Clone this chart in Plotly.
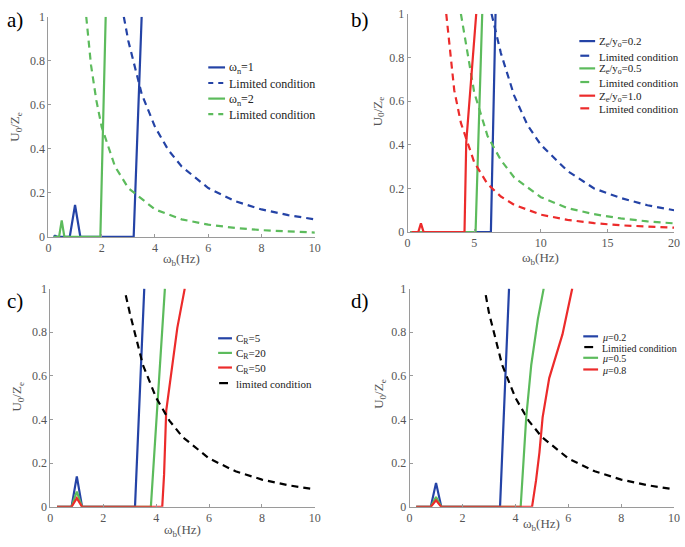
import plotly.graph_objects as go

W, H = 685, 547

# ---------------- data ----------------
# panel a
a_wn1_x = [0.2, 0.25, 0.35, 0.8, 1.0, 1.2, 2.0, 3.2, 3.5]
a_wn1_y = [0, 0.005, 0, 0, 0.145, 0, 0, 0, 1.0]
a_lim1_x = [2.83, 3.0, 3.5, 4.0, 4.5, 5.0, 6.0, 7.0, 8.0, 9.0, 10.0]
a_lim1_y = [1.0, 0.89, 0.65, 0.5, 0.395, 0.32, 0.222, 0.163, 0.125, 0.099, 0.08]
a_wn2_x = [0.2, 0.4, 0.5, 0.6, 1.0, 1.95, 2.15]
a_wn2_y = [0, 0, 0.075, 0, 0, 0, 1.0]
a_lim2_x = [1.42, 1.6, 1.8, 2.0, 2.5, 3.0, 4.0, 5.0, 6.0, 7.0, 8.0, 9.0, 10.0]
a_lim2_y = [1.0, 0.78, 0.62, 0.5, 0.32, 0.222, 0.125, 0.08, 0.056, 0.041, 0.031, 0.025, 0.02]

# panel b
b_02_x = [0.2, 1.0, 6.25, 6.6]
b_02_y = [0, 0, 0, 1.0]
b_lim02_x = [6.3, 7, 8, 9, 10, 12, 14, 16, 18, 20]
b_lim02_y = [1.0, 0.82, 0.625, 0.49, 0.4, 0.28, 0.2, 0.156, 0.123, 0.1]
b_05_x = [0.2, 5.1, 5.6]
b_05_y = [0, 0, 1.0]
b_lim05_x = [4.0, 5, 6, 7, 8, 10, 12, 14, 16, 18, 20]
b_lim05_y = [1.0, 0.64, 0.44, 0.33, 0.25, 0.16, 0.11, 0.082, 0.0625, 0.049, 0.04]
b_10_x = [0.3, 0.8, 1.0, 1.2, 4.27, 4.4, 5.15]
b_10_y = [0, 0, 0.04, 0, 0, 0.41, 1.0]
b_lim10_x = [2.9, 3.5, 4, 5, 6, 7, 8, 10, 12, 14, 16, 18, 20]
b_lim10_y = [1.0, 0.65, 0.5, 0.32, 0.22, 0.163, 0.125, 0.08, 0.056, 0.041, 0.031, 0.025, 0.02]

# panel c
c_5_x = [0.25, 0.8, 1.0, 1.2, 3.2, 3.55]
c_5_y = [0, 0, 0.14, 0, 0, 1.0]
c_20_x = [0.25, 0.8, 1.0, 1.2, 3.8, 4.33]
c_20_y = [0, 0, 0.07, 0, 0, 1.0]
c_50_x = [0.25, 0.8, 1.0, 1.2, 4.23, 4.3, 4.38, 4.61, 4.8, 5.08]
c_50_y = [0, 0, 0.04, 0, 0, 0.15, 0.44, 0.64, 0.82, 1.0]
c_lim_x = [2.85, 3.0, 3.5, 4.0, 4.5, 5.0, 6.0, 7.0, 8.0, 9.0, 10.0]
c_lim_y = [0.97, 0.89, 0.65, 0.5, 0.395, 0.32, 0.222, 0.163, 0.125, 0.099, 0.08]

# panel d
d_02_x = [0.25, 0.8, 1.0, 1.2, 3.42, 3.76]
d_02_y = [0, 0, 0.11, 0, 0, 1.0]
d_lim_x = [2.88, 3.0, 3.5, 4.0, 4.5, 5.0, 6.0, 7.0, 8.0, 9.0, 10.0]
d_lim_y = [0.97, 0.89, 0.65, 0.5, 0.395, 0.32, 0.222, 0.163, 0.125, 0.099, 0.08]
d_05_x = [0.25, 0.8, 1.0, 1.2, 4.2, 4.41, 4.6, 4.85, 5.07]
d_05_y = [0, 0, 0.045, 0, 0, 0.41, 0.65, 0.86, 1.0]
d_08_x = [0.25, 0.8, 1.0, 1.2, 4.63, 4.78, 4.91, 5.03, 5.28, 5.78, 6.15]
d_08_y = [0, 0, 0.03, 0, 0, 0.12, 0.25, 0.41, 0.59, 0.79, 1.0]

x_ticks_10 = [0, 2, 4, 6, 8, 10]
x_ticks_20 = [0, 5, 10, 15, 20]
y_ticks = [0, 0.2, 0.4, 0.6, 0.8, 1]
y_tick_text = ["0", "0.2", "0.4", "0.6", "0.8", "1"]

# ---------------- style ----------------
BLUE = "#2443a6"
GREEN = "#5cbb5c"
RED = "#ec2b2b"
BLACK = "#000000"
SERIF = "Liberation Serif, Times New Roman, serif"
DASH = "7px,5px"

fig = go.Figure()
legend_items = {"": [], "2": [], "3": [], "4": []}

def add(x, y, name, color, dash, ax):
    fig.add_trace(go.Scatter(
        x=x, y=y, mode="lines", name=name, showlegend=False,
        line=dict(color=color, width=2.2, dash=dash),
        xaxis="x" + ax, yaxis="y" + ax,
    ))
    legend_items[ax].append((name, color, dash))

# panel a
add(a_wn1_x, a_wn1_y, "ω<sub>n</sub>=1", BLUE, "solid", "")
add(a_lim1_x, a_lim1_y, "Limited condition", BLUE, DASH, "")
add(a_wn2_x, a_wn2_y, "ω<sub>n</sub>=2", GREEN, "solid", "")
add(a_lim2_x, a_lim2_y, "Limited condition", GREEN, DASH, "")
# panel b
add(b_02_x, b_02_y, "Z<sub>e</sub>/y<sub>o</sub>=0.2", BLUE, "solid", "2")
add(b_lim02_x, b_lim02_y, "Limited condition", BLUE, DASH, "2")
add(b_05_x, b_05_y, "Z<sub>e</sub>/y<sub>o</sub>=0.5", GREEN, "solid", "2")
add(b_lim05_x, b_lim05_y, "Limited condition", GREEN, DASH, "2")
add(b_10_x, b_10_y, "Z<sub>e</sub>/y<sub>o</sub>=1.0", RED, "solid", "2")
add(b_lim10_x, b_lim10_y, "Limited condition", RED, DASH, "2")
# panel c
add(c_5_x, c_5_y, "C<sub>R</sub>=5", BLUE, "solid", "3")
add(c_20_x, c_20_y, "C<sub>R</sub>=20", GREEN, "solid", "3")
add(c_50_x, c_50_y, "C<sub>R</sub>=50", RED, "solid", "3")
add(c_lim_x, c_lim_y, "limited condition", BLACK, DASH, "3")
# panel d
add(d_02_x, d_02_y, "<i>μ</i>=0.2", BLUE, "solid", "4")
add(d_lim_x, d_lim_y, "Limitied condition", BLACK, DASH, "4")
add(d_05_x, d_05_y, "<i>μ</i>=0.5", GREEN, "solid", "4")
add(d_08_x, d_08_y, "<i>μ</i>=0.8", RED, "solid", "4")

def px_x(p):
    return p / W

def px_y(p):
    return 1 - p / H

panels = {
    "": dict(x=(46, 316), y=(10, 236), xr=[0, 10], xt=x_ticks_10),
    "2": dict(x=(410, 680), y=(7, 231), xr=[0, 20], xt=x_ticks_20),
    "3": dict(x=(48, 316), y=(289, 513), xr=[0, 10], xt=x_ticks_10),
    "4": dict(x=(412, 680), y=(289, 513), xr=[0, 10], xt=x_ticks_10),
}

axis_common = dict(
    showgrid=False, zeroline=False, showline=True, linecolor="#9a9a9a", linewidth=1,
    ticks="inside", ticklen=3, tickcolor="#9a9a9a", mirror=False,
    tickfont=dict(family=SERIF, size=12, color="#555555"),
)

layout = {}
for k, p in panels.items():
    layout["xaxis" + k] = dict(
        domain=[px_x(p["x"][0]), px_x(p["x"][1])], range=p["xr"],
        tickvals=p["xt"], anchor="y" + k, **axis_common,
    )
    layout["yaxis" + k] = dict(
        domain=[px_y(p["y"][1]), px_y(p["y"][0])], range=[0, 1],
        tickvals=y_ticks, ticktext=y_tick_text,
        anchor="x" + k, **axis_common,
    )

# ---- hand-built compact legends (layout only) ----
legend_boxes = {
    "": dict(x0=208, x1=225, rows=[62, 78, 94, 110], size=12, short=False),
    "2": dict(x0=584, x1=600, rows=[35, 50, 63, 77, 91, 104], size=11, short=True),
    "3": dict(x0=218, x1=232, rows=[340, 355, 370, 386], size=11, short=True),
    "4": dict(x0=588, x1=603, rows=[338, 349, 360, 372], size=10, short=True),
}

shapes = []
ann = []
for k, box in legend_boxes.items():
    for (name, color, dash), row in zip(legend_items[k], box["rows"]):
        if dash == "solid":
            x0, x1, d = box["x0"], box["x1"], "solid"
        elif box["short"]:
            x0, x1, d = box["x0"] + 1, box["x0"] + 10, "solid"
        else:
            x0, x1, d = box["x0"], box["x1"] - 1, "5px,5px"
        shapes.append(dict(
            type="line", xref="paper", yref="paper",
            x0=px_x(x0), x1=px_x(x1), y0=px_y(row), y1=px_y(row),
            line=dict(color=color, width=2.2, dash=d),
        ))
        ann.append(dict(
            x=px_x(box["x1"] + 2), y=px_y(row + 1), xref="paper", yref="paper",
            text=name, showarrow=False, xanchor="left", yanchor="middle",
            font=dict(family=SERIF, size=box["size"], color="#222222"),
        ))

def text(xpx, ypx, s, size, angle=0, color="#555555"):
    ann.append(dict(
        x=px_x(xpx), y=px_y(ypx), xref="paper", yref="paper", text=s,
        showarrow=False, textangle=angle, xanchor="center", yanchor="middle",
        font=dict(family=SERIF, size=size, color=color),
    ))

XT = "ω<sub>b</sub>(Hz)"
YT = "U<sub>0</sub>/Z<sub>e</sub>"
text(181, 259, XT, 13)
text(545, 258, XT, 13)
text(182, 537, XT, 13)
text(546, 531, XT, 13)
text(13, 123, YT, 13, -90)
text(380, 107, YT, 13, -90)
text(15, 400, YT, 13, -90)
text(382, 397, YT, 13, -90)
text(12, 13, "a)", 21, color="#000000")
text(362, 13, "b)", 21, color="#000000")
text(12, 302, "c)", 21, color="#000000")
text(362, 302, "d)", 21, color="#000000")

fig.update_layout(
    width=W, height=H, margin=dict(l=0, r=0, t=0, b=0),
    paper_bgcolor="white", plot_bgcolor="white",
    annotations=ann, shapes=shapes, showlegend=False, **layout,
)

fig.write_html(
    "out.html",
    config={"displayModeBar": False},
    post_script="document.body.style.margin='0px';document.body.style.overflow='hidden';",
)
